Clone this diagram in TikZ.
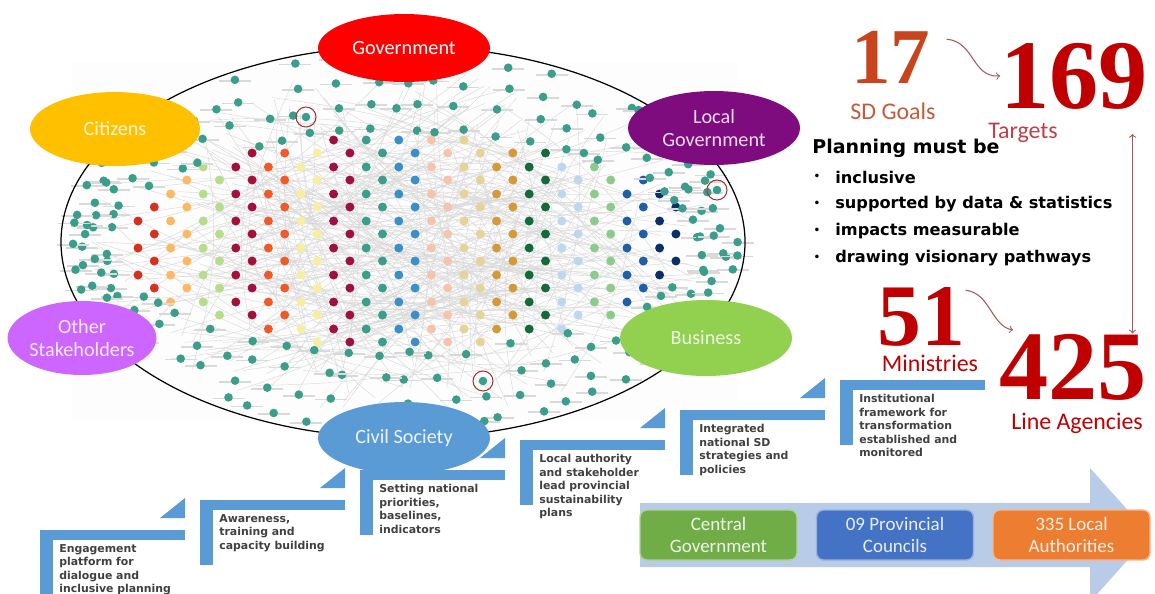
\documentclass[tikz,border=0pt]{standalone}
\usepackage{fontspec}
\setmainfont{Carlito}
\newfontfamily\numfont{Liberation Serif}
\newfontfamily\dejavu{DejaVu Sans}
\usetikzlibrary{shapes.geometric}

% bubble colours
\definecolor{govred}{HTML}{FF0000}
\definecolor{citizen}{HTML}{FFC000}
\definecolor{localgov}{HTML}{7E0C7E}
\definecolor{otherst}{HTML}{CC66FF}
\definecolor{business}{HTML}{92D050}
\definecolor{civil}{HTML}{5B9BD5}
% staircase and flow arrow
\definecolor{stairblue}{HTML}{5B9BD5}
\definecolor{flowblue}{HTML}{B8CCE8}
\definecolor{cgreen}{HTML}{70AD47}
\definecolor{pblue}{HTML}{4472C4}
\definecolor{lorange}{HTML}{ED7D31}
% numbers
\definecolor{goalred}{HTML}{C8441E}
\definecolor{goallabel}{HTML}{C55A3C}
\definecolor{deepred}{HTML}{C00000}
\definecolor{targetred}{HTML}{C0404A}
\definecolor{linkred}{HTML}{A8585A}
% network nodes
\definecolor{nodeteal}{HTML}{3A9E8A}
\definecolor{ringred}{HTML}{A83535}
\definecolor{grid0}{HTML}{D7301F}
\definecolor{grid1}{HTML}{FDB863}
\definecolor{grid2}{HTML}{B5DD8A}
\definecolor{grid3}{HTML}{A50F3C}
\definecolor{grid4}{HTML}{F05A28}
\definecolor{grid5}{HTML}{F7EFA0}
\definecolor{grid6}{HTML}{9E1040}
\definecolor{grid7}{HTML}{3A9E8A}
\definecolor{grid8}{HTML}{3A8FC7}
\definecolor{grid9}{HTML}{F6C3AD}
\definecolor{grid10}{HTML}{E6D397}
\definecolor{grid11}{HTML}{D39A3A}
\definecolor{grid12}{HTML}{146B35}
\definecolor{grid13}{HTML}{BDD7EE}
\definecolor{grid14}{HTML}{8CCB8C}
\definecolor{grid15}{HTML}{1F5FA8}
\definecolor{grid16}{HTML}{0B2F66}

\begin{document}
\begin{tikzpicture}[x=0.02cm, y=-0.02cm,
  bubble/.style={ellipse, inner sep=0pt, align=center, font=\fontsize{11.5}{13}\selectfont},
  edge/.style={gray!30, line width=0.25pt},
  smudge/.style={gray!30, line width=1pt},
  steptext/.style={anchor=north west, inner sep=0pt, align=left, text=black!75,
    font=\dejavu\bfseries\fontsize{6.2}{7.7}\selectfont},
  unitbox/.style={rounded corners=4pt, minimum width=3.14cm, minimum height=1cm,
    align=center, line width=0.8pt, font=\fontsize{10.8}{12.5}\selectfont},
  bignum/.style={inner sep=0pt, anchor=base west},
  numlabel/.style={inner sep=0pt, font=\fontsize{13.6}{15}\selectfont},
  redarrow/.style={->, draw=linkred, line width=0.6pt},
]

\useasboundingbox (0,0) rectangle (1155,593);
\fill[white] (0,0) rectangle (1155,593);

%%% --- network backdrop and links --- %%%
\fill[black!0.8] (72,62) rectangle (738,420);

\pgfmathsetseed{12}
\foreach \i in {1,...,260}{
  \pgfmathsetmacro{\aa}{rnd*360}
  \pgfmathsetmacro{\ab}{\aa+70+rnd*220}
  \pgfmathsetmacro{\ra}{0.35+0.6*rnd}
  \pgfmathsetmacro{\rb}{0.35+0.6*rnd}
  \draw[edge] ({403+\ra*330*cos(\aa)},{242+\ra*185*sin(\aa)})
    to[bend left=12] ({403+\rb*330*cos(\ab)},{242+\rb*185*sin(\ab)});
}

%%% --- coloured goal/target grid --- %%%
\foreach \c in {0,...,33}{
  \pgfmathtruncatemacro{\g}{\c/2}
  \pgfmathsetmacro{\cx}{138+16.3*\c}
  \foreach \r in {0,...,7}{
    \pgfmathsetmacro{\cy}{140+27*\r+13*mod(\c,2)}
    \pgfmathtruncatemacro{\inside}{((\cx-408)/292)^2+((\cy-242)/106)^2<1}
    \ifnum\inside=1
      \fill[grid\g] (\cx,\cy) circle (4.5);
    \fi
  }
}

%%% --- stakeholder ring (teal nodes) --- %%%
\foreach \t in {0.05,0.35,0.65,0.95}{
  \foreach \a in {0,6,...,354}{
    \pgfmathsetmacro{\aa}{\a+rand*2.5+\t*11}
    \pgfmathsetmacro{\tx}{403+(295+40*\t)*cos(\aa)+rand*4}
    \pgfmathsetmacro{\ty}{242+(108+82*\t)*sin(\aa)+rand*3}
    \pgfmathtruncatemacro{\keep}{rnd>0.15}
    \ifnum\keep=1
      \draw[smudge] (\tx-16,\ty+1) -- (\tx+16,\ty+1);
      \fill[nodeteal] (\tx,\ty) circle (4.3);
    \fi
  }
}

% highlighted nodes
\foreach \hx/\hy in {306/117, 717/190, 483/381}{
  \fill[nodeteal] (\hx,\hy) circle (4.3);
  \draw[ringred, line width=0.6pt] (\hx,\hy) circle (10);
}

% outline of the network
\draw[line width=0.7pt] (403,242) ellipse [x radius=342, y radius=196];

%%% --- stakeholder bubbles --- %%%
\node[bubble, fill=govred, text=white, minimum width=3.44cm, minimum height=1.36cm]
  (gov) at (404,48) {Government};
\node[bubble, fill=citizen, text=citizen!15!white, minimum width=3.4cm, minimum height=1.48cm]
  (cit) at (115,129) {Citizens};
\node[bubble, fill=localgov, text=localgov!15!white, minimum width=3.44cm, minimum height=1.48cm]
  (lgov) at (714,128) {Local\\Government};
\node[bubble, fill=otherst, text=otherst!15!white, minimum width=2.88cm, minimum height=1.48cm]
  (other) at (82,338) {Other\\Stakeholders};
\node[bubble, fill=business, text=business!15!white, minimum width=3.44cm, minimum height=1.52cm]
  (bus) at (706,338) {Business};
\node[bubble, fill=civil, text=civil!12!white, minimum width=3.44cm, minimum height=1.44cm]
  (civ) at (404,438) {Civil Society};

%%% --- staircase of steps --- %%%
\foreach \k/\txt in {
    0/{Engagement\\platform for\\dialogue and\\inclusive planning},
    1/{Awareness,\\training and\\capacity building},
    2/{Setting national\\priorities,\\baselines,\\indicators},
    3/{Local authority\\and stakeholder\\lead provincial\\sustainability\\plans},
    4/{Integrated\\national SD\\strategies and\\policies},
    5/{Institutional\\framework for\\transformation\\established and\\monitored}}{
  \pgfmathsetmacro{\sx}{40+160*\k}
  \pgfmathsetmacro{\sy}{530-30*\k}
  \fill[stairblue] (\sx,\sy) rectangle ++(145,10);
  \fill[stairblue] (\sx,\sy) rectangle ++(13,65);
  \ifnum\k<5
    \fill[stairblue] (\sx+120,\sy-12) -- ++(25,0) -- ++(0,-20) -- cycle;
  \fi
  \node[steptext] (step\k) at (\sx+19,\sy+14) {\txt};
}

%%% --- government levels arrow --- %%%
\fill[flowblue] (640,503) -- (1090,503) -- (1090,468) -- (1150,535)
  -- (1090,602) -- (1090,567) -- (640,567) -- cycle;

\node[unitbox, fill=cgreen, draw=cgreen!55!white, text=cgreen!12!white]
  (central) at (718.5,535) {Central\\Government};
\node[unitbox, fill=pblue, draw=pblue!55!white, text=pblue!12!white]
  (provincial) at (895,535) {09 Provincial\\Councils};
\node[unitbox, fill=lorange, draw=lorange!55!white, text=lorange!12!white]
  (localauth) at (1071.5,535) {335 Local\\Authorities};

%%% --- goals, targets, ministries, agencies --- %%%
\node[bignum, text=goalred, font=\numfont\bfseries\fontsize{45}{45}\selectfont]
  (n17) at (851,83) {17};
\node[numlabel, text=goallabel] (goals) at (893,111) {SD Goals};

\node[bignum, text=deepred, font=\numfont\bfseries\fontsize{56}{56}\selectfont]
  (n169) at (1000,108) {169};
\node[numlabel, text=targetred] (targets) at (1023,133) {Targets};

\node[bignum, text=deepred, font=\numfont\bfseries\fontsize{50}{50}\selectfont]
  (n51) at (877,345) {51};
\node[numlabel, text=deepred] (ministries) at (930,363) {Ministries};

\node[bignum, text=deepred, font=\numfont\bfseries\fontsize{56}{56}\selectfont]
  (n425) at (999,399) {425};
\node[numlabel, text=deepred] (agencies) at (1077,423) {Line Agencies};

\draw[redarrow] ([xshift=9pt,yshift=-5pt]n17.north east)
  .. controls +(28,2) and +(-28,2) .. (n169.west);
\draw[redarrow] ([yshift=-2pt]n51.north east)
  .. controls +(25,3) and +(-22,-4) .. ([xshift=8pt,yshift=2pt]n425.north west);

\coordinate (vtop) at ([xshift=-9pt,yshift=-14pt]n169.south east);
\draw[<->, draw=linkred, line width=0.6pt] (vtop) -- (vtop |- n425.north);

%%% --- planning principles --- %%%
\node[anchor=west, inner sep=0pt, font=\dejavu\bfseries\fontsize{10.8}{12}\selectfont]
  (plan) at (812,148) {Planning must be};
\foreach \j/\entry in {1/inclusive, 2/supported by data \& statistics,
    3/impacts measurable, 4/drawing visionary pathways}{
  \node[inner sep=0pt, font=\dejavu\fontsize{7}{7}\selectfont] (dot\j) at (817,150+27*\j) {\textbullet};
  \node[anchor=west, inner sep=0pt, font=\dejavu\bfseries\fontsize{9.2}{10}\selectfont]
    (item\j) at (835,150+27*\j) {\entry};
}

\end{tikzpicture}
\end{document}
